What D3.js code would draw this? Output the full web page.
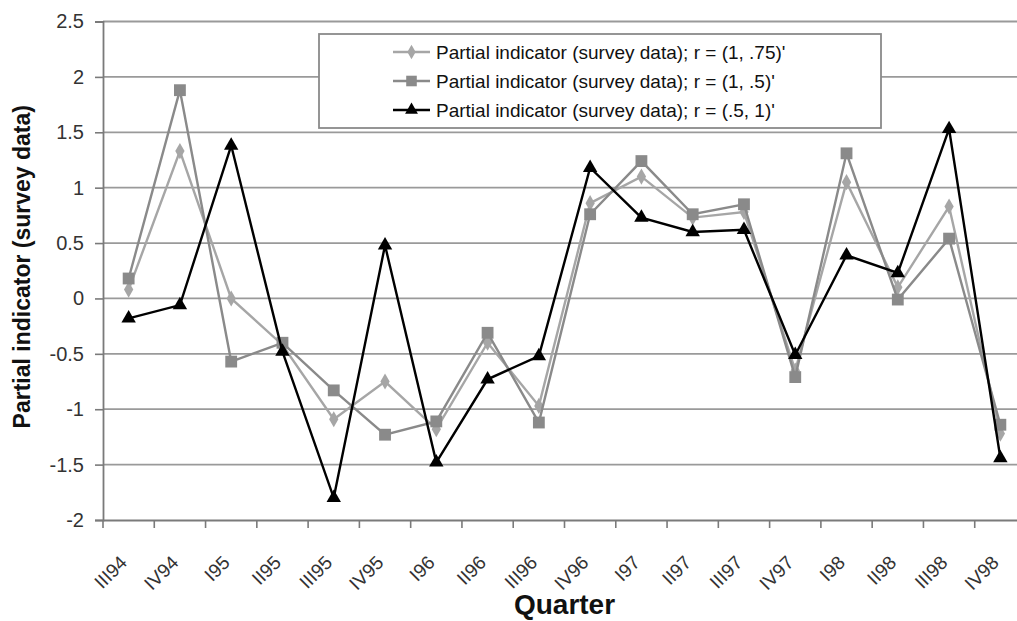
<!DOCTYPE html>
<html><head><meta charset="utf-8">
<script src="https://cdn.jsdelivr.net/npm/d3@7"></script>
<style>body{margin:0;background:#fff;overflow:hidden}</style>
</head><body>
<script>
const quarters = ["III94","IV94","I95","II95","III95","IV95","I96","II96","III96","IV96","I97","II97","III97","IV97","I98","II98","III98","IV98"];
const seriesA = [0.08,1.33,0.0,-0.42,-1.09,-0.75,-1.18,-0.40,-0.97,0.86,1.10,0.73,0.78,-0.65,1.05,0.10,0.83,-1.22]; // r = (1, .75)'
const seriesB = [0.18,1.88,-0.57,-0.40,-0.83,-1.23,-1.11,-0.31,-1.12,0.76,1.24,0.76,0.85,-0.71,1.31,-0.01,0.54,-1.14]; // r = (1, .5)'
const seriesC = [-0.18,-0.06,1.38,-0.48,-1.80,0.48,-1.48,-0.73,-0.52,1.18,0.73,0.60,0.62,-0.51,0.39,0.23,1.53,-1.44]; // r = (.5, 1)'
const legendLabels = ["Partial indicator (survey data); r = (1, .75)'","Partial indicator (survey data); r = (1, .5)'","Partial indicator (survey data); r = (.5, 1)'"];
const yTicks = [-2,-1.5,-1,-0.5,0,0.5,1,1.5,2,2.5];

(function(){
const W = 1017, H = 621;
const pL = 103, pR = 1026, pT = 21.5, pB = 520;
const svg = d3.select("body").append("svg").attr("width", W).attr("height", H)
  .style("font-family", "Liberation Sans, Arial, sans-serif");

const x = d3.scaleBand().domain(quarters).range([pL, pR]);
const y = d3.scaleLinear().domain([-2, 2.5]).range([pB, pT]);

// gridlines
svg.append("g").selectAll("line").data(yTicks.filter(t => t > -2)).join("line")
  .attr("x1", pL).attr("x2", pR).attr("y1", d => y(d)).attr("y2", d => y(d))
  .attr("stroke", "#9a9a9a").attr("stroke-width", 1.8);

// y axis
const yAxis = svg.append("g").attr("transform", `translate(${pL},0)`)
  .call(d3.axisLeft(y).tickValues(yTicks).tickFormat(d => String(d)).tickSize(8).tickPadding(11));
yAxis.select(".domain").attr("stroke", "#7a7a7a").attr("stroke-width", 1.8);
yAxis.selectAll(".tick line").attr("stroke", "#7a7a7a").attr("stroke-width", 1.6);
yAxis.selectAll("text").attr("font-size", 20).attr("fill", "#333");

// x axis
const xAxis = svg.append("g").attr("transform", `translate(0,${pB})`)
  .call(d3.axisBottom(x).tickSize(0).tickFormat(""));
xAxis.select(".domain").attr("stroke", "#7a7a7a").attr("stroke-width", 1.8);
const tickPos = d3.range(quarters.length).map(i => pL + i * x.step());
svg.append("g").selectAll("line").data(tickPos).join("line")
  .attr("x1", d => d).attr("x2", d => d).attr("y1", pB).attr("y2", pB + 8)
  .attr("stroke", "#7a7a7a").attr("stroke-width", 1.6);
svg.append("g").selectAll("text").data(quarters).join("text")
  .attr("transform", d => `translate(${x(d) + x.bandwidth()/2 - 5},${pB + 39}) rotate(-45)`)
  .attr("text-anchor", "end").attr("dy", "0.35em")
  .attr("font-size", 19).attr("fill", "#333").text(d => d);

// axis titles
svg.append("text").attr("x", (pL + pR) / 2).attr("y", 614)
  .attr("text-anchor", "middle").attr("font-size", 28).attr("font-weight", "bold").attr("fill", "#111")
  .text("Quarter");
svg.append("text").attr("transform", `translate(30,${(pT + pB) / 2 - 4}) rotate(-90)`)
  .attr("text-anchor", "middle").attr("font-size", 23).attr("font-weight", "bold").attr("fill", "#111")
  .text("Partial indicator (survey data)");

const cx = (d, i) => x(quarters[i]) + x.bandwidth() / 2;
const line = d3.line().x((d, i) => cx(d, i)).y(d => y(d));

const series = [
  {data: seriesA, color: "#a6a6a6", sym: d3.symbolDiamond, size: 75},
  {data: seriesB, color: "#8a8a8a", sym: d3.symbolSquare, size: 140},
  {data: seriesC, color: "#000", sym: d3.symbolTriangle, size: 90}
];

series.forEach(s => {
  svg.append("path").datum(s.data).attr("d", line)
    .attr("fill", "none").attr("stroke", s.color).attr("stroke-width", 2.4);
  svg.append("g").selectAll("path").data(s.data).join("path")
    .attr("d", d3.symbol().type(s.sym).size(s.size))
    .attr("transform", (d, i) => `translate(${cx(d, i)},${y(d)})`)
    .attr("fill", s.color);
});

// legend
const lg = svg.append("g");
lg.append("rect").attr("x", 319).attr("y", 34).attr("width", 562).attr("height", 94)
  .attr("fill", "#fff").attr("stroke", "#8a8a8a").attr("stroke-width", 1.8);
const rowsY = [52, 81, 110];
series.forEach((s, i) => {
  lg.append("line").attr("x1", 393).attr("x2", 430).attr("y1", rowsY[i]).attr("y2", rowsY[i])
    .attr("stroke", s.color).attr("stroke-width", 2.4);
  lg.append("path").attr("d", d3.symbol().type(s.sym).size(s.size * 0.8))
    .attr("transform", `translate(411.5,${rowsY[i]})`).attr("fill", s.color);
  lg.append("text").attr("x", 436).attr("y", rowsY[i]).attr("dy", "0.35em")
    .attr("font-size", 19).attr("fill", "#111").text(legendLabels[i]);
});
})();
</script>
</body></html>
